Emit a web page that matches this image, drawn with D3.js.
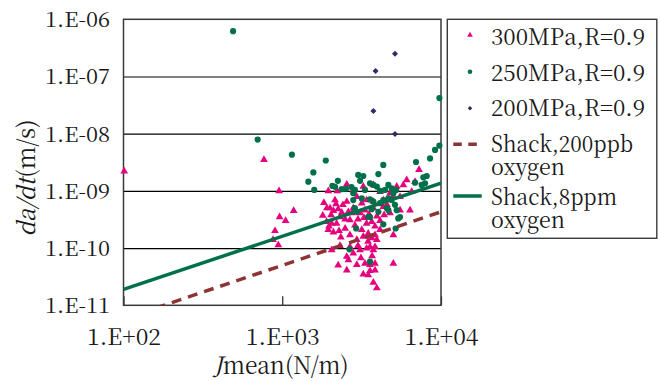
<!DOCTYPE html>
<html><head><meta charset="utf-8">
<script src="https://cdn.jsdelivr.net/npm/d3@7"></script>
<style>body{margin:0;background:#fff}svg{display:block}
.t{font-family:"Noto Serif CJK JP","Liberation Serif",serif;}</style>
</head><body>
<svg id="c" width="660" height="381"></svg>
<script>
const xTickValues=[100,1000,10000];
const xTickLabels=["1.E+02","1.E+03","1.E+04"];
const yTickValues=[1e-11,1e-10,1e-9,1e-8,1e-7,1e-6];
const yTickLabels=["1.E-11","1.E-10","1.E-09","1.E-08","1.E-07","1.E-06"];
const legendLabels=[["300MPa,R=0.9"],["250MPa,R=0.9"],["200MPa,R=0.9"],["Shack,200ppb","oxygen"],["Shack,8ppm","oxygen"]];

// 300MPa, R=0.9  [J mean (N/m), da/dt (m/s)]
const s300=[[1950,1.0e-9],[2220,1.0e-9],[2550,1.3e-9],[2800,1.04e-9],[3240,1.19e-9],[3750,1.27e-9],[4130,9.7e-10],[4770,9.1e-10],[5260,1.19e-9],[5790,1.27e-9],[6080,1.55e-9],[6540,9.7e-10],[6860,1.45e-9],[7270,2.35e-9],[6380,4.6e-10],[5010,5.4e-11],
[1830,6.2e-10],[2150,6.9e-10],[2550,6.5e-10],[2950,7.9e-10],[3170,6.1e-10],[3400,6.9e-10],[3750,6.5e-10],[4330,6.9e-10],[5010,7.9e-10],[5520,7.9e-10],
[1800,3.7e-10],[2000,5.0e-10],[2100,4.5e-10],[2250,4.8e-10],[2370,4.2e-10],[2610,4.3e-10],[2800,5.0e-10],[3090,4.1e-10],[3320,4.6e-10],[3750,5.0e-10],[4330,5.3e-10],[4770,4.1e-10],[5520,4.6e-10],
[1900,2.9e-10],[2050,2.7e-10],[2200,2.7e-10],[2310,3.5e-10],[2490,2.2e-10],[2670,3.1e-10],[2870,2.5e-10],[3170,2.1e-10],[3400,2.7e-10],[3660,2.9e-10],[3840,2.4e-10],[4130,2.1e-10],[5010,1.7e-10],
[1950,2.1e-10],[2100,1.9e-10],[2340,1.55e-10],[2670,1.7e-10],[2950,1.4e-10],[3240,1.6e-10],[3480,1.8e-10],[3660,1.5e-10],[3840,1.7e-10],[3940,1.4e-10],
[2050,9.3e-11],[2310,1.1e-10],[2670,1.05e-10],[2800,8.1e-11],[3090,9.3e-11],[3400,9.9e-11],[3570,1.05e-10],[3750,9.3e-11],[3840,1.05e-10],
[2250,5.0e-11],[2550,7.1e-11],[2610,6.2e-11],[2950,5.1e-11],[3320,5.4e-11],[3570,5.1e-11],[3840,5.4e-11],
[2550,4.1e-11],[3240,3.5e-11],[3480,3.4e-11],[3570,4.0e-11],[3750,2.5e-11],[3940,2.0e-11],
[101,2.2e-9],[767,3.5e-9],[955,1.0e-9],[962,3.5e-10],[1050,3.0e-10],[1180,4.5e-10],[900,2.0e-10],[875,1.4e-10],[944,1.13e-10],
[1910,5.0e-10],[2030,3.8e-10],[2180,5.9e-10],[2410,5.7e-10],[2490,3.2e-10],[1970,2.4e-10],[2280,2.0e-10],[2750,4.1e-10],[3000,3.2e-10],[3270,3.4e-10],[3520,3.9e-10],[3950,3.6e-10],[4130,3.0e-10],[3470,1.3e-10],[3680,7.3e-11],[3130,6.7e-11],[3840,4.1e-11],[3000,1.1e-10],[4380,3.8e-10],[4570,5.7e-10]];

// 250MPa, R=0.9
const s250=[[490,6.2e-7],[700,7.9e-9],[1150,4.3e-9],[1880,3.4e-9],[1570,2.1e-9],[1460,1.45e-9],[1590,1.04e-9],[2070,1.22e-9],[2150,1.18e-9],[2240,1.5e-9],[2370,1.07e-9],[2520,1.09e-9],[2730,1.17e-9],[2870,1.04e-9],[3010,1.9e-9],[3240,1.82e-9],[3090,1.5e-9],[3320,1.04e-9],[3570,1.36e-9],[3750,1.27e-9],[3940,1.19e-9],[4030,1.97e-9],[4330,2.84e-9],[4130,1.0e-9],[4440,1.04e-9],[3170,7.4e-10],[3570,7.1e-10],[3750,6.5e-10],[2800,6.9e-10],[4130,6.1e-10],[4330,6.9e-10],[2870,5.0e-10],[2950,4.3e-10],[3660,4.8e-10],[3570,3.5e-10],[4030,4.3e-10],[4550,5.0e-10],[2920,2.2e-10],[3480,3.5e-10],[4330,2.6e-10],[2650,9.5e-11],[3570,5.8e-11],[5180,2.2e-10],[5380,3.3e-10],[5260,4.6e-10],[4660,1.27e-9],[4890,1.11e-9],[5010,9.1e-10],[4660,7.4e-10],[4890,6.9e-10],[4660,4.6e-10],[5130,5.7e-10],[5520,3.5e-10],[6960,3.2e-9],[8530,3.7e-9],[9170,5.2e-9],[9770,6.2e-9],[9770,4.2e-8],[7740,1.73e-9],[8130,1.82e-9],[6860,1.39e-9],[7560,1.27e-9],[5220,1.04e-9],[2800,9.1e-10],[7930,1.36e-9]];

// 200MPa, R=0.9
const s200=[[5130,2.5e-7],[3870,1.25e-7],[3750,2.5e-8],[5130,9.9e-9]];

// Shack reference lines
const shackJ=[100,10000];
const shack200ppb=[5.8e-12,4.3e-10];
const shack8ppm=[1.9e-11,1.36e-9];

const svg=d3.select("#c");
const L=123.5,R=441,T=19.3,B=305.3;
const x=d3.scaleLog().domain([100,10000]).range([L,R]);
const y=d3.scaleLog().domain([1e-11,1e-6]).range([B,T]);
const PINK="#E6007E",GREEN="#00704A",NAVY="#2F2B63",BROWN="#8E3434",TXT="#1a1a1a";

svg.append("defs").append("clipPath").attr("id","pc").append("rect")
  .attr("x",L).attr("y",T).attr("width",R-L).attr("height",B-T);

// gridlines
svg.append("g").attr("transform",`translate(${L},0)`)
  .call(d3.axisLeft(y).tickValues(yTickValues.slice(1,5)).tickSize(-(R-L)).tickFormat(""))
  .call(g=>{g.select(".domain").remove();g.selectAll("line").attr("stroke","#000").attr("stroke-width",1.2);});

// y tick labels
svg.append("g").attr("transform",`translate(${L},0)`)
  .call(d3.axisLeft(y).tickValues(yTickValues).tickFormat((d,i)=>yTickLabels[i]).tickSize(0).tickPadding(13.5))
  .call(g=>{g.attr("font-family",null).attr("font-size",null);g.select(".domain").remove();
    g.selectAll("text").attr("class","t").attr("font-size",20.5).attr("fill",TXT).attr("dy","0.36em")
     .attr("textLength",65).attr("lengthAdjust","spacingAndGlyphs");});

// x axis
svg.append("g").attr("transform",`translate(0,${B})`)
  .call(d3.axisBottom(x).tickValues(xTickValues).tickFormat((d,i)=>xTickLabels[i]).tickSize(-9))
  .call(g=>{g.attr("font-family",null).attr("font-size",null);g.select(".domain").remove();
    g.selectAll("line").attr("stroke","#222").attr("stroke-width",1.2);
    g.selectAll("text").attr("class","t").attr("y",39.7).attr("dy",null).attr("font-size",23).attr("fill",TXT)
     .attr("textLength",74).attr("lengthAdjust","spacingAndGlyphs");});

// plot border
svg.append("rect").attr("x",L).attr("y",T).attr("width",R-L).attr("height",B-T)
  .attr("fill","none").attr("stroke","#3a3a3a").attr("stroke-width",1.5);

const tri=d3.symbol().type(d3.symbolTriangle).size(26);
const dia=d3.symbol().type(d3.symbolSquare).size(18);

// markers
svg.append("g").selectAll("path").data(s300).join("path")
  .attr("d",tri).attr("transform",d=>`translate(${x(d[0])},${y(d[1])})`).attr("fill",PINK);
svg.append("g").selectAll("circle").data(s250).join("circle")
  .attr("cx",d=>x(d[0])).attr("cy",d=>y(d[1])).attr("r",3.1).attr("fill",GREEN);
svg.append("g").selectAll("path").data(s200).join("path")
  .attr("d",dia).attr("transform",d=>`translate(${x(d[0])},${y(d[1])}) rotate(45)`).attr("fill",NAVY);

// Shack lines
const line=d3.line().x(d=>x(d[0])).y(d=>y(d[1]));
const lg=svg.append("g").attr("clip-path","url(#pc)");
lg.append("path").attr("d",line(d3.zip(shackJ,shack200ppb))).attr("fill","none")
  .attr("stroke",BROWN).attr("stroke-width",3.5).attr("stroke-dasharray","10,7");
lg.append("path").attr("d",line(d3.zip(shackJ,shack8ppm))).attr("fill","none")
  .attr("stroke",GREEN).attr("stroke-width",3.5);

// axis titles
const xt=svg.append("text").attr("class","t").attr("x",281).attr("y",374).attr("text-anchor","middle")
  .attr("font-size",24).attr("fill",TXT).attr("textLength",135).attr("lengthAdjust","spacingAndGlyphs");
xt.append("tspan").attr("font-style","italic").text("J");
xt.append("tspan").text("mean(N/m)");
const yt=svg.append("text").attr("class","t").attr("transform","translate(35,178) rotate(-90)").attr("text-anchor","middle")
  .attr("font-size",24).attr("fill",TXT).attr("textLength",117).attr("lengthAdjust","spacingAndGlyphs");
yt.append("tspan").attr("font-style","italic").text("da/dt");
yt.append("tspan").text("(m/s)");

// legend
const lgd=svg.append("g");
lgd.append("rect").attr("x",447.3).attr("y",19.3).attr("width",209.5).attr("height",219)
  .attr("fill","#fff").attr("stroke","#3a3a3a").attr("stroke-width",1.4);
const tx=491, fs=22.5;
const baselines=[45,80.5,116,152,205];
const widths=[[154],[154],[154],[142,74],[126,74]];
legendLabels.forEach((lines,i)=>{
  const t=lgd.append("text").attr("class","t").attr("x",tx).attr("y",baselines[i]).attr("font-size",fs).attr("fill",TXT);
  lines.forEach((s,j)=>t.append("tspan").attr("x",tx).attr("dy",j?23:0)
    .attr("textLength",widths[i][j]).attr("lengthAdjust","spacingAndGlyphs").text(s));
});
lgd.append("path").attr("d",d3.symbol().type(d3.symbolTriangle).size(14)()).attr("transform","translate(470,35)").attr("fill",PINK);
lgd.append("circle").attr("cx",470).attr("cy",71.7).attr("r",2.3).attr("fill",GREEN);
lgd.append("path").attr("d",d3.symbol().type(d3.symbolSquare).size(10)()).attr("transform","translate(470,108.3) rotate(45)").attr("fill",NAVY);
lgd.append("line").attr("x1",453.3).attr("x2",477).attr("y1",144.3).attr("y2",144.3)
  .attr("stroke",BROWN).attr("stroke-width",3.5).attr("stroke-dasharray","8.5,6.5");
lgd.append("line").attr("x1",453.3).attr("x2",481.7).attr("y1",196).attr("y2",196)
  .attr("stroke",GREEN).attr("stroke-width",3.5);
</script>
</body></html>
